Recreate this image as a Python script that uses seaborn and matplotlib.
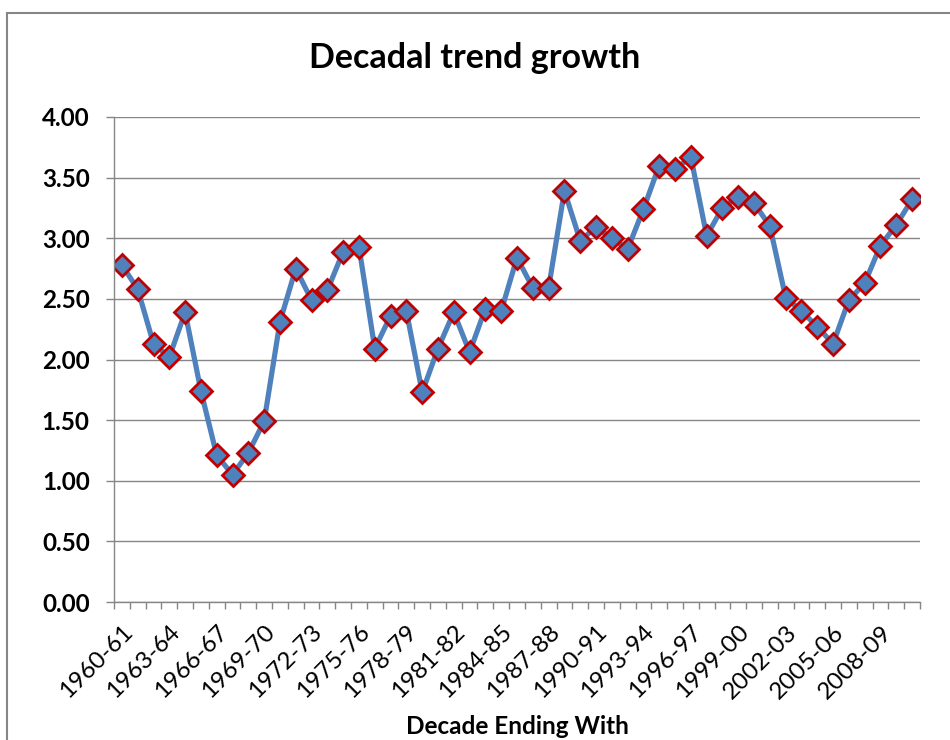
import numpy as np
import matplotlib
matplotlib.use("Agg")
import matplotlib.pyplot as plt
import matplotlib.patches as patches
import seaborn as sns

# 数据：每个十年期末的趋势增长率
decades = [f"{y}-{str(y + 1)[-2:]}" for y in range(1960, 2011)]
growth = [2.78, 2.58, 2.13, 2.02, 2.39, 1.74, 1.21, 1.05, 1.23, 1.49,
          2.31, 2.75, 2.49, 2.57, 2.89, 2.93, 2.09, 2.36, 2.40, 1.73,
          2.09, 2.39, 2.06, 2.42, 2.40, 2.84, 2.59, 2.59, 3.39, 2.98,
          3.09, 3.00, 2.91, 3.24, 3.60, 3.57, 3.67, 3.02, 3.25, 3.34,
          3.29, 3.10, 2.51, 2.40, 2.27, 2.13, 2.49, 2.63, 2.94, 3.11,
          3.32]
y_ticks = [0.0, 0.5, 1.0, 1.5, 2.0, 2.5, 3.0, 3.5, 4.0]

sns.set_theme(style="white")
plt.rcParams['font.family'] = ['Lato', 'DejaVu Sans']
plt.rcParams['text.color'] = 'black'
plt.rcParams['axes.labelcolor'] = 'black'
plt.rcParams['xtick.color'] = 'black'
plt.rcParams['ytick.color'] = 'black'

line_blue = '#4F81BD'
marker_red = '#C00000'
grid_gray = '#868686'

fig = plt.figure(figsize=(9.5, 7.4), dpi=100, facecolor='white')
ax = fig.add_axes([114 / 950, 1 - 602 / 740, 806 / 950, 485 / 740])

sns.pointplot(x=decades, y=growth, ax=ax, color=line_blue, errorbar=None,
              markers='D', linewidth=3.75, markersize=11,
              markerfacecolor=line_blue, markeredgecolor=marker_red,
              markeredgewidth=2)

# 坐标轴
ax.set_ylim(0, 4)
ax.set_yticks(y_ticks)
ax.set_yticklabels([f"{v:.2f}" for v in y_ticks], fontsize=17.5, fontweight='bold')
ax.set_xlim(-0.5, len(decades) - 0.5)
ax.set_xticks(np.arange(0, len(decades), 3))
ax.set_xticklabels(decades[::3], rotation=45, ha='right', va='top',
                   rotation_mode='anchor', fontsize=17.5)
ax.set_xticks(np.arange(-0.5, len(decades)), minor=True)
ax.tick_params(axis='x', which='major', length=0, pad=14)
ax.tick_params(axis='x', which='minor', bottom=True, length=5, color=grid_gray, width=1)
ax.tick_params(axis='y', left=True, length=6, color=grid_gray, width=1, pad=11.5)

ax.yaxis.grid(True, color=grid_gray, linewidth=1)
ax.xaxis.grid(False)
ax.set_axisbelow(True)
for side in ['top', 'right']:
    ax.spines[side].set_visible(False)
for side in ['left', 'bottom']:
    ax.spines[side].set_color(grid_gray)
    ax.spines[side].set_linewidth(1)

ax.set_xlabel("Decade Ending With", fontsize=17.5, fontweight='bold')
ax.xaxis.label.set_va('center')
ax.xaxis.set_label_coords(0.5, (602 - 727) / 485)
ax.set_ylabel("")
fig.text(0.5, 1 - 58 / 740, "Decadal trend growth", ha='center', va='center',
         fontsize=24.5, fontweight='bold')

# 图表外框
fig.patches.append(patches.Rectangle((7 / 950, -0.1), 1.2, 1.1 - 13 / 740,
                                     transform=fig.transFigure, fill=False,
                                     edgecolor='#868686', linewidth=1.5))

fig.savefig('out.png', dpi=100)
plt.close(fig)
